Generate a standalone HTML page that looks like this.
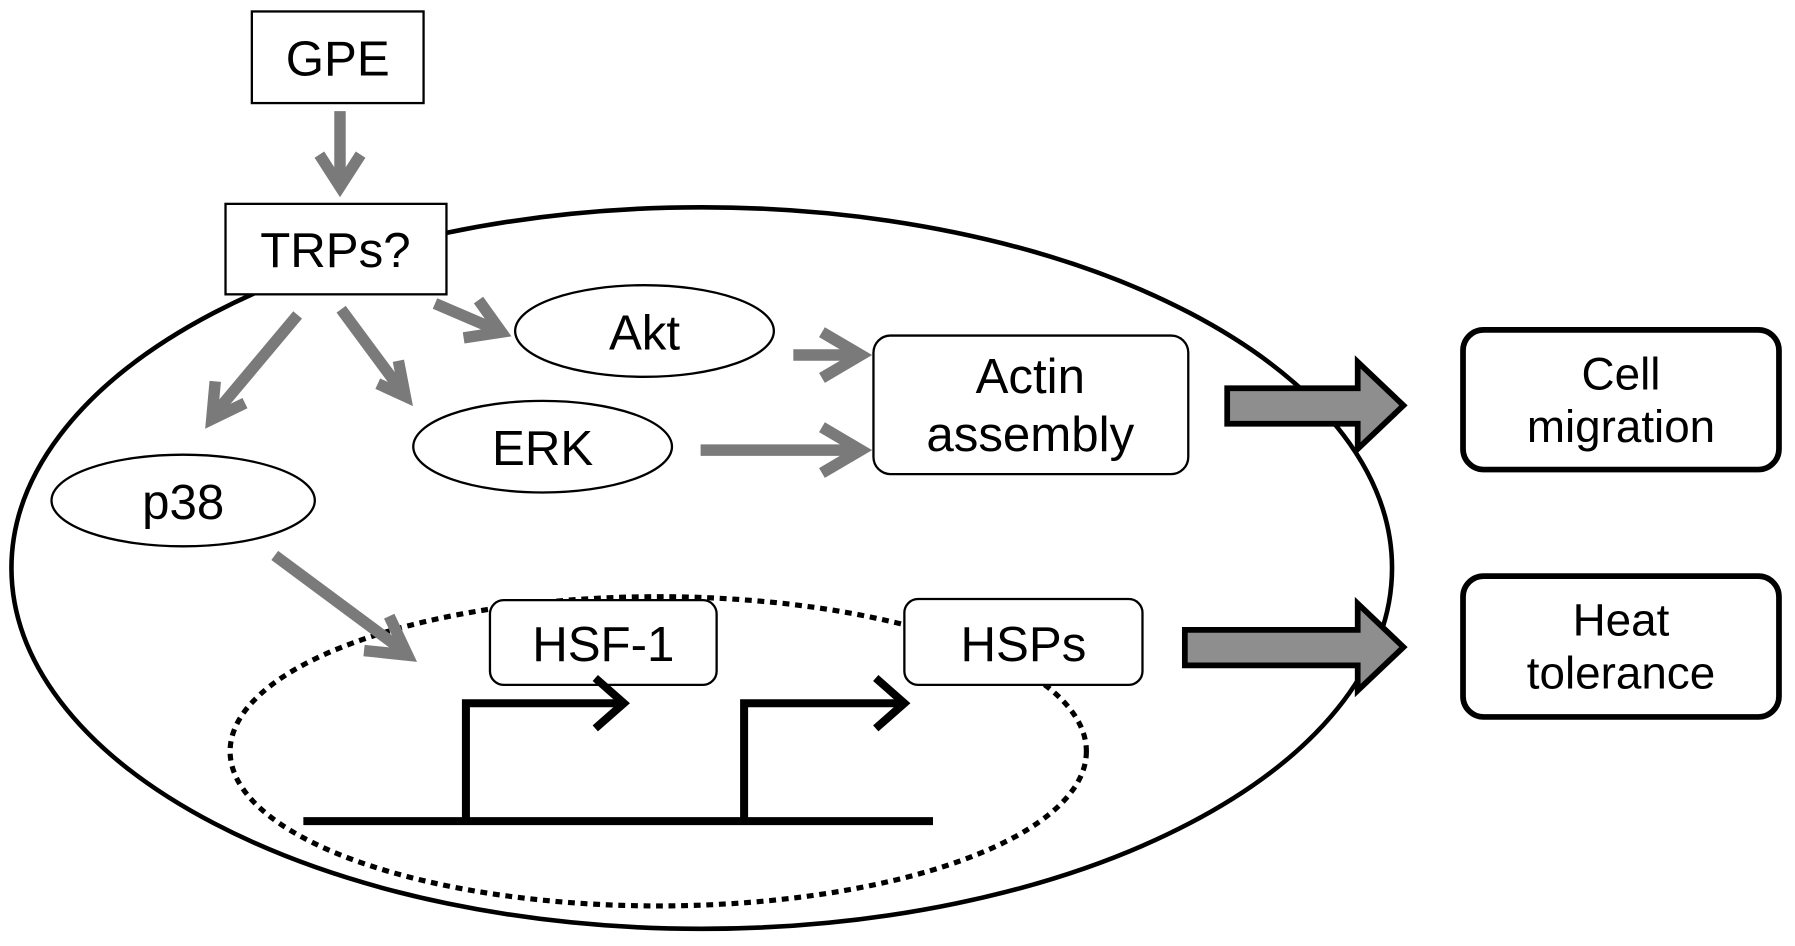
<!DOCTYPE html>
<html><head><style>html,body{margin:0;padding:0;background:#fff}svg{display:block}</style></head>
<body>
<svg width="1795" height="946" viewBox="0 0 1568 826" preserveAspectRatio="none" xmlns="http://www.w3.org/2000/svg" font-family="Liberation Sans, Arial, sans-serif">
<rect width="1568" height="826" fill="#fff"/>
<ellipse cx="613" cy="496" rx="603" ry="315" fill="none" stroke="#000" stroke-width="4"/>
<ellipse cx="575" cy="656" rx="374" ry="135" fill="none" stroke="#000" stroke-width="4.5" stroke-dasharray="6,5"/>
<rect x="220" y="10" width="150" height="80" fill="#fff" stroke="#000" stroke-width="2"/>
<text x="295" y="66" font-size="43" text-anchor="middle">GPE</text>
<rect x="197" y="178" width="193" height="79" fill="#fff" stroke="#000" stroke-width="2"/>
<text x="293" y="233" font-size="43" text-anchor="middle">TRPs?</text>
<ellipse cx="563" cy="289" rx="113" ry="40" fill="#fff" stroke="#000" stroke-width="2"/>
<text x="563" y="305" font-size="43" text-anchor="middle">Akt</text>
<ellipse cx="474" cy="390" rx="113" ry="40" fill="#fff" stroke="#000" stroke-width="2"/>
<text x="474" y="406" font-size="43" text-anchor="middle">ERK</text>
<ellipse cx="160" cy="437" rx="115" ry="40" fill="#fff" stroke="#000" stroke-width="2"/>
<text x="160" y="453" font-size="43" text-anchor="middle">p38</text>
<rect x="763" y="293" width="275" height="121" rx="15" fill="#fff" stroke="#000" stroke-width="2"/>
<text x="900" y="343" font-size="43" text-anchor="middle">Actin</text>
<text x="900" y="394" font-size="43" text-anchor="middle">assembly</text>
<rect x="428" y="524" width="198" height="74" rx="12" fill="#fff" stroke="#000" stroke-width="2"/>
<text x="527" y="577" font-size="43" text-anchor="middle">HSF-1</text>
<rect x="790" y="523" width="208" height="75" rx="12" fill="#fff" stroke="#000" stroke-width="2"/>
<text x="894" y="577" font-size="43" text-anchor="middle">HSPs</text>
<rect x="1278" y="288" width="276" height="122" rx="18" fill="#fff" stroke="#000" stroke-width="5"/>
<text x="1416" y="340" font-size="40" text-anchor="middle">Cell</text>
<text x="1416" y="386" font-size="40" text-anchor="middle">migration</text>
<rect x="1278" y="503" width="276" height="123" rx="18" fill="#fff" stroke="#000" stroke-width="5"/>
<text x="1416" y="555" font-size="40" text-anchor="middle">Heat</text>
<text x="1416" y="601" font-size="40" text-anchor="middle">tolerance</text>
<g stroke="#7a7a7a" stroke-width="10" fill="none" stroke-linecap="butt" stroke-linejoin="miter">
<line x1="297" y1="97" x2="297" y2="160"/><polyline points="279,135 297,163 315,135"/>
<line x1="380" y1="265" x2="436" y2="289"/><polyline points="405,295 438,290 418,262"/>
<line x1="298" y1="270" x2="352" y2="343"/><polyline points="330,335 354,346 348,315"/>
<line x1="260" y1="275" x2="187" y2="362"/><polyline points="188,333 185,366 214,352"/>
<line x1="693" y1="310" x2="750" y2="310"/><polyline points="718,290 752,310 718,330"/>
<line x1="612" y1="393" x2="750" y2="393"/><polyline points="718,373 752,393 718,413"/>
<line x1="240" y1="485" x2="352" y2="568"/><polyline points="318,568 356,572 340,538"/>
</g>
<polygon points="1072,339 1186,339 1186,316 1226,354 1186,392 1186,370 1072,370" fill="#8e8e8e" stroke="#000" stroke-width="5"/>
<polygon points="1035,550 1186,550 1186,527 1226,565 1186,603 1186,581 1035,581" fill="#8e8e8e" stroke="#000" stroke-width="5"/>
<g stroke="#000" fill="none" stroke-width="7">
<line x1="265" y1="717" x2="815" y2="717"/>
<polyline points="407,717 407,614 545,614"/>
<polyline points="520,592 545,614 520,636"/>
<polyline points="650,717 650,614 790,614"/>
<polyline points="765,592 790,614 765,636"/>
</g>
</svg>
</body></html>
